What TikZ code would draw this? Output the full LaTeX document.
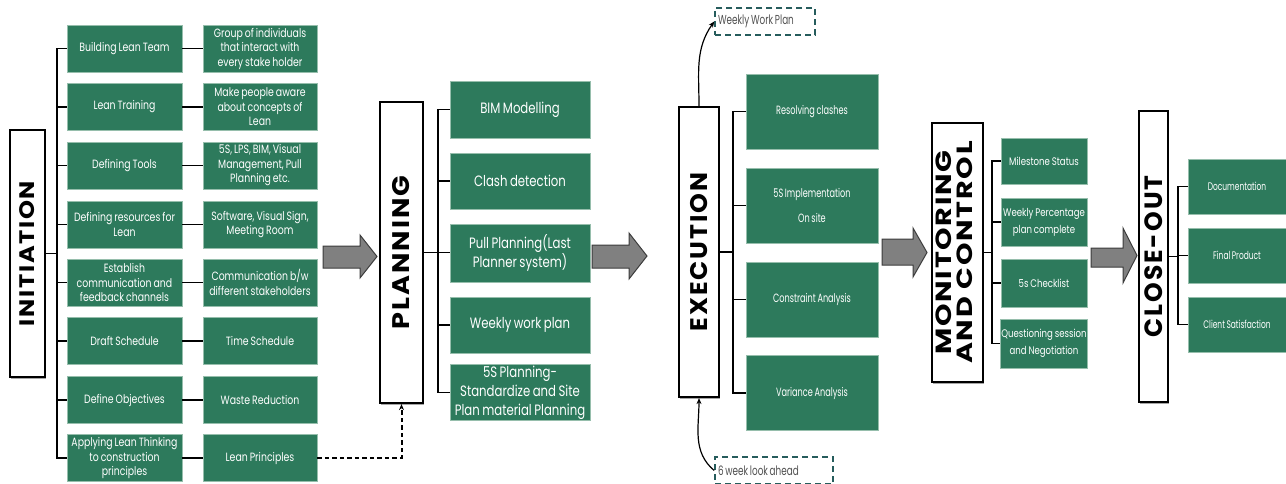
\documentclass[tikz,border=0pt]{standalone}
\usepackage{fontspec}
\setmainfont{Poppins}
\newfontfamily\boxfont{Poppins}[FakeStretch=0.78, WordSpace=0.8]
\newfontfamily\condfont{Poppins}[FakeStretch=0.68, WordSpace=0.75]
\newfontfamily\phasefont{Poppins}
\usetikzlibrary{arrows.meta,shadows}

\definecolor{leaf}{RGB}{45,122,92}
\definecolor{leafedge}{RGB}{150,190,172}
\definecolor{tealdash}{RGB}{38,92,92}
\definecolor{arrowgray}{RGB}{128,128,128}
\definecolor{arrowedge}{RGB}{60,60,60}
\definecolor{notegray}{RGB}{80,80,80}

% rotated title of a phase box: size, glyph stretch, letter spacing, text
\newcommand{\phasetitle}[4]{\fontsize{#1}{#1}\selectfont\addfontfeature{FakeStretch=#2,LetterSpace=#3}\rotatebox{90}{#4}}

\begin{document}
\begin{tikzpicture}[x=1pt,y=-1pt,
  leafbox/.style={draw=leafedge, line width=0.6pt, fill=leaf, text=white,
    align=center, inner sep=1pt},
  initbox/.style={leafbox, minimum width=115pt, minimum height=47pt,
    font=\boxfont\fontsize{12}{14.5}\selectfont},
  planbox/.style={leafbox, minimum width=140pt,
    font=\boxfont\fontsize{15}{19}\selectfont},
  execbox/.style={leafbox, minimum width=132pt, minimum height=75pt,
    font=\condfont\fontsize{12}{25}\selectfont},
  monbox/.style={leafbox, minimum width=86pt, minimum height=47pt,
    font=\boxfont\fontsize{11}{17}\selectfont},
  closebox/.style={leafbox, minimum width=98pt, minimum height=55pt,
    font=\condfont\fontsize{11}{14}\selectfont},
  phasebox/.style={draw=black, line width=2.2pt, fill=white, inner sep=0pt,
    drop shadow={shadow xshift=1pt, shadow yshift=-1.5pt, fill=black, opacity=0.35},
    font=\phasefont\bfseries},
  link/.style={draw=black, line width=1.6pt},
  bigarrow/.style={draw=arrowedge, fill=arrowgray, line width=1pt, line join=miter},
  notebox/.style={draw=tealdash, line width=1.6pt, dash pattern=on 6pt off 4pt,
    inner sep=2pt, text=notegray, font=\condfont\fontsize{13}{15}\selectfont},
  curvelink/.style={draw=black, line width=1.2pt, -{Stealth[length=6pt,width=5pt]}},
  dashlink/.style={draw=black, line width=2pt, dash pattern=on 4.5pt off 3pt,
    -{Stealth[length=6pt,width=5pt]}}
]
\useasboundingbox (0,0) rectangle (1286,484);

% ---------------- Initiation ----------------
\node[phasebox, minimum width=35pt, minimum height=247pt] (init) at (27.5,253.5)
  {\phasetitle{21}{1.15}{8}{INITIATION}};

\node[initbox] (i1) at (124.5,48.5) {Building Lean Team};
\node[initbox] (i2) at (124.5,107) {Lean Training};
\node[initbox] (i3) at (124.5,165.5) {Defining Tools};
\node[initbox] (i4) at (124.5,224.5) {Defining resources for\\Lean};
\node[initbox] (i5) at (124.5,282.5) {Establish\\communication and\\feedback channels};
\node[initbox] (i6) at (124.5,341) {Draft Schedule};
\node[initbox] (i7) at (124.5,400) {Define Objectives};
\node[initbox] (i8) at (124.5,458) {Applying Lean Thinking\\to construction\\principles};

\node[initbox, minimum width=114pt] (r1) at (260,48.5) {Group of individuals\\that interact with\\every stake holder};
\node[initbox, minimum width=114pt] (r2) at (260,107) {Make people aware\\about concepts of\\Lean};
\node[initbox, minimum width=114pt] (r3) at (260,165.5) {5S, LPS, BIM, Visual\\Management, Pull\\Planning etc.};
\node[initbox, minimum width=114pt] (r4) at (260,224.5) {Software, Visual Sign,\\Meeting Room};
\node[initbox, minimum width=114pt] (r5) at (260,282.5) {Communication b/w\\different stakeholders};
\node[initbox, minimum width=114pt] (r6) at (260,341) {Time Schedule};
\node[initbox, minimum width=114pt] (r7) at (260,400) {Waste Reduction};
\node[initbox, minimum width=114pt] (r8) at (260,458) {Lean Principles};

\coordinate (itrunk) at (57,253);
\draw[link] (init.east) -- (init.east -| itrunk);
\draw[link] (i1.west) -- (i1.west -| itrunk) -- (i8.west -| itrunk) -- (i8.west);
\foreach \n in {2,...,7} \draw[link] (i\n.west -| itrunk) -- (i\n.west);
\foreach \n in {1,...,8} \draw[link] (i\n.east) -- (r\n.west);

% ---------------- Planning ----------------
\node[phasebox, minimum width=43pt, minimum height=301pt] (plan) at (401.5,252.5)
  {\phasetitle{24}{1.13}{8}{PLANNING}};

\node[planbox, minimum height=57pt] (p1) at (520,109.5) {BIM Modelling};
\node[planbox, minimum height=56pt] (p2) at (520,181) {Clash detection};
\node[planbox, minimum height=58pt] (p3) at (520,253) {Pull Planning(Last\\Planner system)};
\node[planbox, minimum height=56pt] (p4) at (520,325) {Weekly work plan};
\node[planbox, minimum height=49pt] (p5) at (520,392.5) {5S Planning-\\Standardize and Site\\Plan material Planning};

\coordinate (ptrunk) at (438,253);
\draw[link] (plan.east) -- (plan.east -| p3.west);
\draw[link] (p1.west) -- (p1.west -| ptrunk) -- (p5.west -| ptrunk) -- (p5.west);
\foreach \n in {2,4} \draw[link] (p\n.west -| ptrunk) -- (p\n.west);

\draw[dashlink] (r8.east) -- (r8.east -| plan.south) -- (plan.south);

% ---------------- Execution ----------------
\node[phasebox, minimum width=40pt, minimum height=290pt] (exec) at (699,252)
  {\phasetitle{24}{1.05}{8}{EXECUTION}};

\node[execbox] (e1) at (812,111.5) {Resolving clashes};
\node[execbox] (e2) at (812,205.5) {5S Implementation\\On site};
\node[execbox] (e3) at (812,299.5) {Constraint Analysis};
\node[execbox] (e4) at (812,393) {Variance Analysis};

\coordinate (etrunk) at (733,253);
\draw[link] (exec.east) -- (exec.east -| etrunk);
\draw[link] (e1.west) -- (e1.west -| etrunk) -- (e4.west -| etrunk) -- (e4.west);
\foreach \n in {2,3} \draw[link] (e\n.west -| etrunk) -- (e\n.west);

\node[notebox, minimum width=100pt, minimum height=27pt] (wwp) at (765,21.5) {\makebox[94pt][l]{Weekly Work Plan}};
\node[notebox, minimum width=118pt, minimum height=27pt] (swla) at (774,470.5) {\makebox[112pt][l]{6 week look ahead}};

\draw[curvelink] (exec.north) to[out=90, in=235] (wwp.west);
\draw[curvelink] (swla.west) to[out=140, in=-90] (exec.south);

% ---------------- Monitoring and control ----------------
\node[phasebox, minimum width=51pt, minimum height=259pt] (mon) at (957.5,252.5)
  {\phasetitle{22}{1.3}{8}{\begin{tabular}{@{}c@{}}MONITORING\\[-2pt]AND CONTROL\end{tabular}}};

\node[monbox, minimum height=46pt] (m1) at (1044,161) {Milestone Status};
\node[monbox, minimum height=48pt] (m2) at (1044,222) {Weekly Percentage\\plan complete};
\node[monbox, minimum height=48pt] (m3) at (1044,283) {5s Checklist};
\node[monbox, minimum height=49pt] (m4) at (1044,343.5) {Questioning session\\and Negotiation};

\coordinate (mtrunk) at (992,253);
\draw[link] (mon.east) -- (mon.east -| mtrunk);
\draw[link] (m1.west) -- (m1.west -| mtrunk) -- (m4.west -| mtrunk) -- (m4.west);
\foreach \n in {2,3} \draw[link] (m\n.west -| mtrunk) -- (m\n.west);

% ---------------- Close-out ----------------
\node[phasebox, minimum width=29pt, minimum height=291pt] (close) at (1153.5,256.5)
  {\phasetitle{25}{1.0}{8}{CLOSE-OUT}};

\node[closebox] (c1) at (1237,186.5) {Documentation};
\node[closebox] (c2) at (1237,255.5) {Final Product};
\node[closebox] (c3) at (1237,324.5) {Client Satisfaction};

\coordinate (ctrunk) at (1178,256);
\draw[link] (close.east) -- (close.east -| ctrunk);
\draw[link] (c1.west) -- (c1.west -| ctrunk) -- (c3.west -| ctrunk) -- (c3.west);
\draw[link] (c2.west -| ctrunk) -- (c2.west);

% ---------------- Block arrows between the phases ----------------
\draw[bigarrow] (323,246) -- (360,246) -- (360,235) -- (377,256.5) -- (360,278) -- (360,268) -- (323,268) -- cycle;
\draw[bigarrow] (592,245) -- (629,245) -- (629,233) -- (647,256) -- (629,279) -- (629,268) -- (592,268) -- cycle;
\draw[bigarrow] (882,239) -- (913,239) -- (913,228) -- (927,252.5) -- (913,277) -- (913,265) -- (882,265) -- cycle;
\draw[bigarrow] (1091,248) -- (1123,248) -- (1123,228) -- (1137,255.5) -- (1123,283) -- (1123,267) -- (1091,267) -- cycle;
\end{tikzpicture}
\end{document}
